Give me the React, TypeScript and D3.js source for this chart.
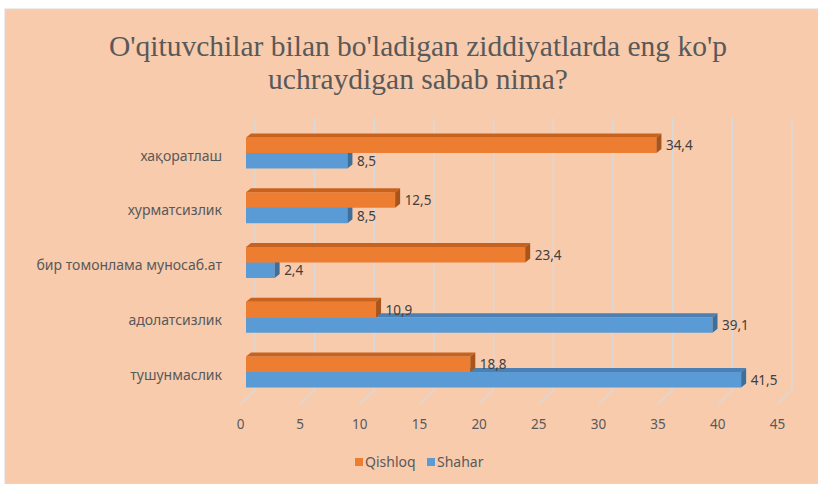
import React from 'react';
import * as d3 from 'd3';

const categories = [
  'хақоратлаш',
  'хурматсизлик',
  'бир томонлама муносаб.ат',
  'адолатсизлик',
  'тушунмаслик',
];
const seriesNames = ['Qishloq', 'Shahar'];
const qishloq = [34.4, 12.5, 23.4, 10.9, 18.8];
const shahar = [8.5, 8.5, 2.4, 39.1, 41.5];
const ticks = [0, 5, 10, 15, 20, 25, 30, 35, 40, 45];

const W = 818;
const H = 484;
const DX = 5; // bar depth
const DY = 4;
const colors = {
  Qishloq: { front: '#ED7D31', top: '#C8621F', side: '#A9541B' },
  Shahar: { front: '#5B9BD5', top: '#4A80B3', side: '#3E6E9A' },
};
const textColor = '#595959';
const serif = "'Liberation Serif', 'Times New Roman', 'DejaVu Serif', serif";
const sans = "'Noto Sans', 'Open Sans', sans-serif";

const fmt = (v: number) => String(v).replace('.', ',');

const App = () => {
  const x = d3.scaleLinear().domain([0, 45]).range([246, 782.9]);
  const y = d3.scaleBand().domain(categories).range([125.6, 399.4]);
  const sub = d3.scaleBand().domain(seriesNames).range([-15.5, 15.5]);

  const values: Record<string, number[]> = { Qishloq: qishloq, Shahar: shahar };
  // Shahar first so Qishloq (sitting on it) hides its top face
  const drawOrder = ['Shahar', 'Qishloq'];

  const bar = (name: string, cat: string, v: number) => {
    const c = (colors as any)[name];
    const x0 = x(0);
    const x1 = x(v);
    const y0 = (y(cat) as number) + y.bandwidth() / 2 + (sub(name) as number);
    const h = sub.bandwidth();
    const top = `M${x0},${y0}L${x1},${y0}L${x1 + DX},${y0 - DY}L${x0 + DX},${y0 - DY}Z`;
    const side = `M${x1},${y0}L${x1 + DX},${y0 - DY}L${x1 + DX},${y0 + h - DY}L${x1},${y0 + h}Z`;
    return (
      <g key={name + cat}>
        <rect x={x0} y={y0} width={x1 - x0} height={h} fill={c.front} />
        <path d={top} fill={c.top} />
        <path d={side} fill={c.side} />
      </g>
    );
  };

  return (
    <svg width={W} height={H} style={{ position: 'absolute', left: 0, top: 0 }}>
      <rect x={5} y={9} width={W - 5} height={H - 9} fill="#F8CBAD" stroke="#D9D9D9" />
      <text x={418} y={56} textAnchor="middle" fontFamily={serif} fontSize={29.5} fill={textColor}>
        O'qituvchilar bilan bo'ladigan ziddiyatlarda eng ko'p
      </text>
      <text x={418} y={89} textAnchor="middle" fontFamily={serif} fontSize={29.5} fill={textColor}>
        uchraydigan sabab nima?
      </text>

      {/* back wall grid + floor lines */}
      {ticks.map((t) => (
        <g key={t} stroke="#D9D9D9" strokeWidth={1.5}>
          <line x1={x(t) + 9} x2={x(t) + 9} y1={118} y2={390} />
          <line x1={x(t) + 9} x2={x(t) - 5.5} y1={390} y2={404} />
        </g>
      ))}
      {ticks.map((t) => (
        <text
          key={'t' + t}
          x={x(t) - 5.5}
          y={425}
          textAnchor="middle"
          dominantBaseline="middle"
          fontFamily={sans}
          fontSize={13.5}
          fill={textColor}
        >
          {t}
        </text>
      ))}

      {categories.map((cat) => (
        <text
          key={'c' + cat}
          x={222}
          y={(y(cat) as number) + y.bandwidth() / 2 + 4}
          textAnchor="end"
          dominantBaseline="middle"
          fontFamily={sans}
          fontSize={14}
          fill={textColor}
        >
          {cat}
        </text>
      ))}

      {categories.map((cat, i) => drawOrder.map((name) => bar(name, cat, values[name][i])))}

      {categories.map((cat, i) =>
        seriesNames.map((name) => {
          const v = values[name][i];
          const yc =
            (y(cat) as number) + y.bandwidth() / 2 + (sub(name) as number) + sub.bandwidth() / 2 + 1.5;
          return (
            <text
              key={'l' + name + cat}
              x={x(v) + 9.5}
              y={yc}
              dominantBaseline="middle"
              fontFamily={sans}
              fontSize={13.5}
              fill="#404040"
            >
              {fmt(v)}
            </text>
          );
        })
      )}

      {/* legend */}
      {seriesNames.map((name, i) => {
        const lx = i === 0 ? 355 : 427;
        return (
          <g key={'lg' + name}>
            <rect x={lx} y={458} width={8} height={8} fill={(colors as any)[name].front} />
            <text
              x={lx + 10}
              y={463}
              dominantBaseline="middle"
              fontFamily={sans}
              fontSize={14}
              fill={textColor}
            >
              {name}
            </text>
          </g>
        );
      })}
    </svg>
  );
};

export default App;
